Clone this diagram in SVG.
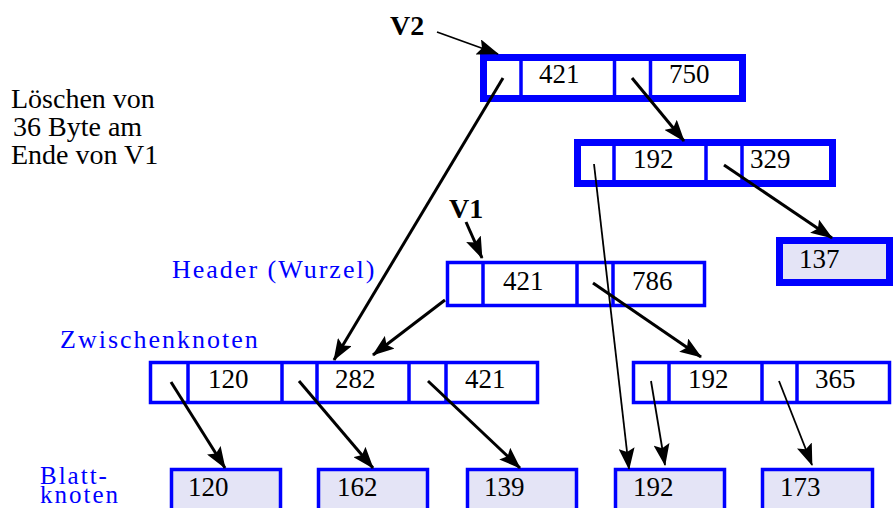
<svg xmlns="http://www.w3.org/2000/svg" width="893" height="508" viewBox="0 0 893 508">
<style>
.box{fill:#fff;stroke:#0000ff;stroke-width:3.5}
.thick{fill:#fff;stroke:#0000ff;stroke-width:7}
.leaf{fill:#e4e4f6;stroke:#0000ff;stroke-width:3.5}
.div{stroke:#0000ff;stroke-width:3.5}
.num{font-family:"Liberation Serif",serif;font-size:27px;fill:#000}
.lbl{font-family:"Liberation Serif",serif;font-size:26px;fill:#0000ff;letter-spacing:2px}
.lbls{font-family:"Liberation Serif",serif;font-size:25px;fill:#0000ff;letter-spacing:2px}
.note{font-family:"Liberation Serif",serif;font-size:28px;fill:#000}
.bold{font-family:"Liberation Serif",serif;font-size:28px;font-weight:bold;fill:#000}
.ar{stroke:#000;stroke-width:3;fill:none;marker-end:url(#ah)}
.arthin{stroke:#000;stroke-width:1.8;fill:none;marker-end:url(#ah)}
</style>
<defs>
<marker id="ah" markerUnits="userSpaceOnUse" viewBox="0 0 22 16" refX="21" refY="8" markerWidth="22" markerHeight="16" orient="auto">
<path d="M0,0 L22,8 L0,16 L4,8 Z" fill="#000"/>
</marker>
</defs>

<g id="labels">
<text class="note" x="11" y="108">Löschen von</text>
<text class="note" x="13" y="136">36 Byte am</text>
<text class="note" x="11" y="164">Ende von V1</text>
<text class="bold" x="390" y="35">V2</text>
<text class="bold" x="449" y="218">V1</text>
<text class="lbl" x="172" y="278">Header (Wurzel)</text>
<text class="lbl" x="60" y="348">Zwischenknoten</text>
<text class="lbls" x="40" y="484">Blatt-</text>
<text class="lbls" x="40" y="503">knoten</text>
</g>

<g id="v2root">
<rect class="thick" x="483.5" y="57.5" width="259" height="41"/>
<line class="div" x1="521" y1="57" x2="521" y2="99"/>
<line class="div" x1="614.5" y1="57" x2="614.5" y2="99"/>
<line class="div" x1="650.5" y1="57" x2="650.5" y2="99"/>
<text class="num" x="539" y="83">421</text>
<text class="num" x="669" y="83">750</text>
</g>

<g id="v2inner">
<rect class="thick" x="577.5" y="142.5" width="255" height="41"/>
<line class="div" x1="614" y1="142" x2="614" y2="184"/>
<line class="div" x1="706" y1="142" x2="706" y2="184"/>
<line class="div" x1="742" y1="142" x2="742" y2="184"/>
<text class="num" x="633" y="168">192</text>
<text class="num" x="750" y="168">329</text>
</g>

<g id="v2leaf137">
<rect class="leaf" x="779.5" y="240.5" width="110" height="42" style="stroke-width:7"/>
<text class="num" x="799" y="268">137</text>
</g>

<g id="header">
<rect class="box" x="447.5" y="262.5" width="257" height="43"/>
<line class="div" x1="483" y1="262" x2="483" y2="306"/>
<line class="div" x1="577" y1="262" x2="577" y2="306"/>
<line class="div" x1="613" y1="262" x2="613" y2="306"/>
<text class="num" x="503" y="290">421</text>
<text class="num" x="632" y="290">786</text>
</g>

<g id="zwischenLeft">
<rect class="box" x="150.5" y="362.5" width="387" height="40"/>
<line class="div" x1="188" y1="362" x2="188" y2="403"/>
<line class="div" x1="282" y1="362" x2="282" y2="403"/>
<line class="div" x1="317" y1="362" x2="317" y2="403"/>
<line class="div" x1="409" y1="362" x2="409" y2="403"/>
<line class="div" x1="446" y1="362" x2="446" y2="403"/>
<text class="num" x="208" y="388">120</text>
<text class="num" x="335" y="388">282</text>
<text class="num" x="465" y="388">421</text>
</g>

<g id="zwischenRight">
<rect class="box" x="633.5" y="362.5" width="256" height="40"/>
<line class="div" x1="669" y1="362" x2="669" y2="403"/>
<line class="div" x1="762" y1="362" x2="762" y2="403"/>
<line class="div" x1="797" y1="362" x2="797" y2="403"/>
<text class="num" x="688" y="388">192</text>
<text class="num" x="815" y="388">365</text>
</g>

<g id="leaf120"><rect class="leaf" x="171.5" y="469.5" width="109" height="50"/><text class="num" x="188" y="496">120</text></g>
<g id="leaf162"><rect class="leaf" x="318.5" y="469.5" width="109" height="50"/><text class="num" x="337" y="496">162</text></g>
<g id="leaf139"><rect class="leaf" x="467.5" y="469.5" width="109" height="50"/><text class="num" x="484" y="496">139</text></g>
<g id="leaf192"><rect class="leaf" x="615.5" y="469.5" width="109" height="50"/><text class="num" x="633" y="496">192</text></g>
<g id="leaf173"><rect class="leaf" x="762.5" y="469.5" width="110" height="50"/><text class="num" x="780" y="496">173</text></g>

<g id="connectors">
<line class="arthin" x1="437" y1="32" x2="498" y2="54"/>
<line class="ar" x1="503" y1="78" x2="334" y2="360"/>
<line class="ar" x1="632" y1="78" x2="684" y2="141"/>
<line class="arthin" x1="594" y1="164" x2="629" y2="469"/>
<line class="ar" x1="724" y1="165" x2="832" y2="238"/>
<line class="ar" x1="466" y1="222" x2="482" y2="258"/>
<line class="ar" x1="445" y1="300" x2="373" y2="355"/>
<line class="ar" x1="593" y1="283" x2="701" y2="357"/>
<line class="ar" x1="171" y1="382" x2="225" y2="468"/>
<line class="ar" x1="299" y1="381" x2="373" y2="468"/>
<line class="ar" x1="428" y1="381" x2="520" y2="468"/>
<line class="arthin" x1="651" y1="381" x2="665" y2="465"/>
<line class="arthin" x1="779" y1="381" x2="812" y2="465"/>
</g>
</svg>
